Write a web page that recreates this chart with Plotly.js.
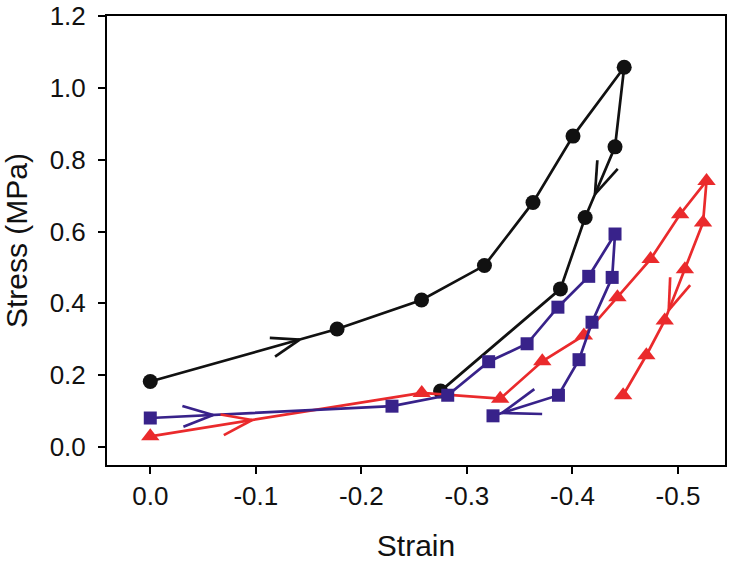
<!DOCTYPE html>
<html>
<head>
<meta charset="utf-8">
<script src="https://cdn.plot.ly/plotly-3.0.1.min.js"></script>
<style>html,body{margin:0;padding:0;background:#fff;}#chart{width:735px;height:562px;}</style>
</head>
<body>
<div id="chart"></div>
<script>
// ---- data ----
const blackX = [0, -0.1770, -0.2570, -0.3166, -0.3626, -0.4005, -0.4490, -0.4403, -0.4120, -0.3886, -0.2750];
const blackY = [0.182, 0.328, 0.409, 0.505, 0.681, 0.866, 1.058, 0.836, 0.639, 0.440, 0.155];

const blueX = [0, -0.2290, -0.2818, -0.3206, -0.3570, -0.3862, -0.4154, -0.4403, -0.4376, -0.4185, -0.4062, -0.3867, -0.3247];
const blueY = [0.080, 0.113, 0.1435, 0.237, 0.287, 0.389, 0.475, 0.593, 0.472, 0.347, 0.2426, 0.1435, 0.0861];

const redX = [0, -0.2572, -0.3315, -0.3714, -0.4108, -0.4426, -0.4740, -0.5020, -0.5270, -0.5237, -0.5065, -0.4874, -0.4700, -0.4480];
const redY = [0.029, 0.150, 0.134, 0.238, 0.310, 0.4167, 0.523, 0.648, 0.741, 0.625, 0.495, 0.352, 0.255, 0.1435];

const xTickVals = [0, -0.1, -0.2, -0.3, -0.4, -0.5];
const xTickText = ["0.0", "-0.1", "-0.2", "-0.3", "-0.4", "-0.5"];
const yTickVals = [0, 0.2, 0.4, 0.6, 0.8, 1.0, 1.2];
const yTickText = ["0.0", "0.2", "0.4", "0.6", "0.8", "1.0", "1.2"];

// direction arrows: series, segment index, fraction along segment, arm length (px)
const arrowSeries = ["black", "black", "blue", "red", "blue", "red"];
const arrowSegment = [0, 7, 0, 0, 11, 10];
const arrowFraction = [0.80, 0.67, 0.26, 0.375, 0.86, 0.80];
const arrowLength = [30, 34, 32, 32, 40, 33];

// ---- styling ----
const COLORS = {black: "#111111", blue: "#38228a", red: "#ea2a2c"};
const SERIES = {black: [blackX, blackY], blue: [blueX, blueY], red: [redX, redY]};
const FONT = "Liberation Sans, Arial, sans-serif";
const X_RANGE = [0.041, -0.5445];
const Y_RANGE = [-0.051, 1.2008];
const M = {l: 107, r: 10, t: 16, b: 97};
const W = 735 - M.l - M.r, H = 562 - M.t - M.b;

function trace(name, symbol, size) {
  return {
    x: SERIES[name][0], y: SERIES[name][1], type: "scatter", mode: "lines+markers",
    line: {color: COLORS[name], width: 2.7},
    marker: {color: COLORS[name], symbol: symbol, size: size},
    hoverinfo: "x+y", showlegend: false
  };
}

const data = [trace("black", "circle", 15), trace("red", "triangle-up", 16), trace("blue", "square", 13)];

const kx = W / (X_RANGE[1] - X_RANGE[0]);
const ky = H / (Y_RANGE[1] - Y_RANGE[0]);
const theta = 19 * Math.PI / 180;
const shapes = [];
for (let i = 0; i < arrowSeries.length; i++) {
  const s = SERIES[arrowSeries[i]];
  const j = arrowSegment[i], t = arrowFraction[i];
  const x0 = s[0][j], y0 = s[1][j], x1 = s[0][j + 1], y1 = s[1][j + 1];
  const tipX = x0 + t * (x1 - x0), tipY = y0 + t * (y1 - y0);
  const dx = (x1 - x0) * kx, dy = -(y1 - y0) * ky; // screen, y down
  const n = Math.hypot(dx, dy);
  const bx = -dx / n, by = -dy / n;
  for (const sg of [1, -1]) {
    const ax = arrowLength[i] * (bx * Math.cos(theta) - sg * by * Math.sin(theta));
    const ay = arrowLength[i] * (sg * bx * Math.sin(theta) + by * Math.cos(theta));
    shapes.push({
      type: "line", xref: "x", yref: "y", xsizemode: "pixel", ysizemode: "pixel",
      xanchor: tipX, yanchor: tipY, x0: ax, y0: -ay, x1: 0, y1: 0,
      line: {color: COLORS[arrowSeries[i]], width: 2.7}
    });
  }
}

const axisCommon = {
  showline: true, linecolor: "#000", linewidth: 2, mirror: true,
  ticks: "outside", ticklen: 7, tickwidth: 2, tickcolor: "#000",
  showgrid: false, zeroline: false, tickmode: "array", ticklabeloverflow: "allow",
  tickfont: {family: FONT, size: 26, color: "#111"}
};

const layout = {
  width: 735, height: 562, margin: M,
  paper_bgcolor: "#fff", plot_bgcolor: "#fff",
  font: {family: FONT, color: "#111"},
  xaxis: Object.assign({}, axisCommon, {
    range: X_RANGE, tickvals: xTickVals, ticktext: xTickText,
    title: {text: "Strain", font: {family: FONT, size: 30, color: "#111"}, standoff: 27}
  }),
  yaxis: Object.assign({}, axisCommon, {
    range: Y_RANGE, tickvals: yTickVals, ticktext: yTickText, ticklabelstandoff: 7,
    title: {text: "Stress (MPa)", font: {family: FONT, size: 30, color: "#111"}, standoff: 18}
  }),
  shapes: shapes
};

Plotly.newPlot("chart", data, layout, {displayModeBar: false, staticPlot: true});
</script>
</body>
</html>
